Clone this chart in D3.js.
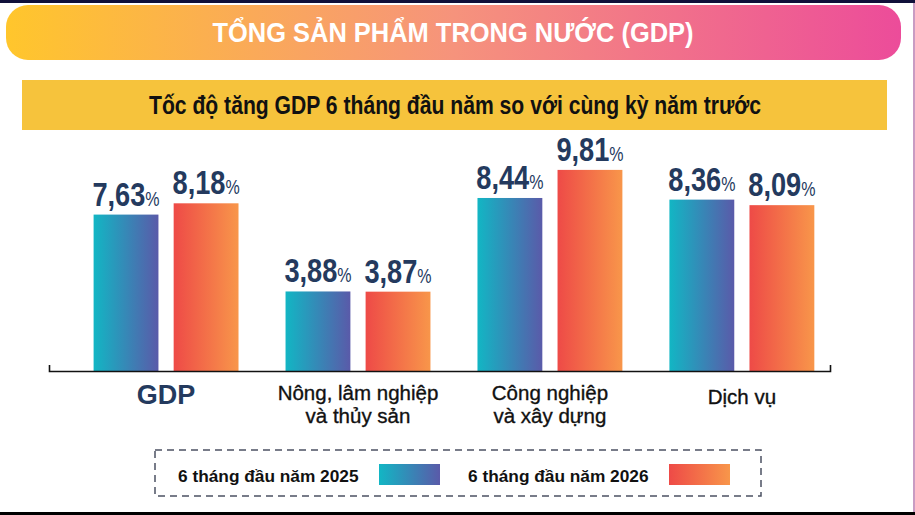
<!DOCTYPE html>
<html>
<head>
<meta charset="utf-8">
<script src="https://cdn.jsdelivr.net/npm/d3@7"></script>
<style>
  body { margin: 0; background: #fff; }
  svg { display: block; }
</style>
</head>
<body>
<script>
// du lieu
var categories = [["GDP"], ["Nông, lâm nghiệp", "và thủy sản"], ["Công nghiệp", "và xây dựng"], ["Dịch vụ"]];
var seriesNames = ["6 tháng đầu năm 2025", "6 tháng đầu năm 2026"];
var values2025 = [7.63, 3.88, 8.44, 8.36];
var values2026 = [8.18, 3.87, 9.81, 8.09];
var titleText = "TỔNG SẢN PHẨM TRONG NƯỚC (GDP)";
var subtitleText = "Tốc độ tăng GDP 6 tháng đầu năm so với cùng kỳ năm trước";

var svgW = 915;
var svgH = 515;

var baseY = 371;
var navy = "#243a5e";
var narrow = "'Liberation Sans Narrow', 'Liberation Sans', Arial, sans-serif";
var sans = "'Liberation Sans', Arial, sans-serif";

var seriesValues = [values2025, values2026];
var rows = categories.map(function(c, i) {
  return { cat: c, vals: seriesValues.map(function(s) { return s[i]; }) };
});

var svg = d3.select("body").append("svg")
    .attr("width", svgW)
    .attr("height", svgH);

var defs = svg.append("defs");

function addGradient(id, stops) {
  var g = defs.append("linearGradient").attr("id", id)
      .attr("x1", "0%").attr("x2", "100%").attr("y1", "0%").attr("y2", "0%");
  stops.forEach(function(s) {
    g.append("stop").attr("offset", s[0]).attr("stop-color", s[1]);
  });
}
addGradient("gTitle", [["0%", "#ffc62c"], ["50%", "#f6937c"], ["100%", "#ec4c9a"]]);
addGradient("g0", [["0%", "#12b6c4"], ["100%", "#5a5aa9"]]);
addGradient("g1", [["0%", "#ee4a47"], ["100%", "#f8964a"]]);

// khung
svg.append("rect").attr("x", 0).attr("y", 0).attr("width", svgW).attr("height", 3).attr("fill", "#10103a");
svg.append("rect").attr("x", 0).attr("y", 512).attr("width", svgW).attr("height", 3).attr("fill", "#000");
svg.append("rect").attr("x", 913).attr("y", 3).attr("width", 2).attr("height", 509).attr("fill", "#c99cc3");

// tieu de
svg.append("rect")
    .attr("x", 6).attr("y", 5).attr("width", 895).attr("height", 55)
    .attr("rx", 22).attr("ry", 22)
    .attr("fill", "url(#gTitle)");

svg.append("text")
    .attr("x", 453).attr("y", 42)
    .attr("text-anchor", "middle")
    .attr("font-family", narrow)
    .attr("font-weight", "bold")
    .attr("font-size", 27)
    .attr("fill", "#fff")
    .attr("textLength", 481)
    .attr("lengthAdjust", "spacingAndGlyphs")
    .text(titleText);

svg.append("rect")
    .attr("x", 22).attr("y", 80).attr("width", 865).attr("height", 50)
    .attr("fill", "#f6c33c");

svg.append("text")
    .attr("x", 455).attr("y", 114)
    .attr("text-anchor", "middle")
    .attr("font-family", narrow)
    .attr("font-weight", "bold")
    .attr("font-size", 26)
    .attr("fill", "#111")
    .attr("textLength", 612)
    .attr("lengthAdjust", "spacingAndGlyphs")
    .text(subtitleText);

// thang do
var x0 = d3.scaleBand()
    .domain(d3.range(categories.length))
    .range([49, 830])
    .paddingInner(0.245)
    .paddingOuter(0.157)
    .align(0.74);

var x1 = d3.scaleBand()
    .domain(d3.range(seriesNames.length))
    .range([0, x0.bandwidth()])
    .paddingInner(0.19);

var yScale = d3.scaleLinear()
    .domain([0, 10])
    .range([baseY, 166]);

var fmt = function(v) { return d3.format(".2f")(v).replace(".", ","); };

var group = svg.selectAll(".nhom")
    .data(rows)
    .enter()
    .append("g")
    .attr("class", "nhom")
    .attr("transform", function(d, i) { return "translate(" + x0(i) + ",0)"; });

group.selectAll("rect")
    .data(function(d) { return d.vals; })
    .enter()
    .append("rect")
    .attr("x", function(d, j) { return x1(j); })
    .attr("y", function(d) { return yScale(d); })
    .attr("width", x1.bandwidth())
    .attr("height", function(d) { return baseY - yScale(d); })
    .attr("fill", function(d, j) { return "url(#g" + j + ")"; });

var label = group.selectAll("text.val")
    .data(function(d) { return d.vals; })
    .enter()
    .append("text")
    .attr("class", "val")
    .attr("transform", function(d, j) {
      return "translate(" + (x1(j) + x1.bandwidth() / 2) + "," + (yScale(d) - 9) + ") scale(0.8,1)";
    })
    .attr("text-anchor", "middle")
    .attr("fill", navy)
    .attr("font-family", narrow);

label.append("tspan")
    .attr("font-weight", "bold")
    .attr("font-size", 34)
    .text(function(d) { return fmt(d); });

label.append("tspan")
    .attr("font-size", 20)
    .text("%");

// truc
var xAxis = d3.axisBottom(x0)
    .tickSizeInner(0)
    .tickSizeOuter(-6)
    .tickFormat("");

svg.append("g")
    .attr("class", "axis")
    .attr("transform", "translate(0," + baseY + ")")
    .call(xAxis)
    .call(function(g) {
      g.select(".domain").attr("stroke", "#111").attr("stroke-width", 1.6);
      g.selectAll(".tick").remove();
    });

var catText = svg.selectAll(".cat")
    .data(categories)
    .enter()
    .append("text")
    .attr("class", "cat")
    .attr("text-anchor", "middle")
    .attr("font-family", sans)
    .attr("font-weight", function(d, i) { return i == 0 ? "bold" : "normal"; })
    .attr("font-size", function(d, i) { return i == 0 ? 27 : 20.5; })
    .attr("fill", function(d, i) { return i == 0 ? navy : "#111"; })
    .attr("stroke", function(d, i) { return i == 0 ? "none" : "#111"; })
    .attr("stroke-width", 0.35);

catText.selectAll("tspan")
    .data(function(d) { return d; })
    .enter()
    .append("tspan")
    .attr("x", function(d, k, nodes) {
      var i = categories.indexOf(d3.select(nodes[k].parentNode).datum());
      return x0(i) + x0.bandwidth() / 2;
    })
    .attr("y", function(d, k, nodes) {
      var n = nodes.length;
      return n == 1 ? 404 : 400 + k * 23;
    })
    .text(function(d) { return d; });

// chu giai
svg.append("rect")
    .attr("x", 155).attr("y", 450).attr("width", 606).attr("height", 46)
    .attr("fill", "none")
    .attr("stroke", "#4c5263")
    .attr("stroke-width", 1.5)
    .attr("stroke-dasharray", "7,5");

var legend = svg.selectAll(".legend")
    .data(seriesNames)
    .enter()
    .append("g")
    .attr("class", "legend")
    .attr("transform", function(d, i) { return "translate(" + (178 + i * 290) + ",0)"; });

legend.append("text")
    .attr("x", 0).attr("y", 482)
    .attr("font-family", sans)
    .attr("font-weight", "bold")
    .attr("font-size", 17.3)
    .attr("fill", "#111")
    .text(function(d) { return d; });

legend.append("rect")
    .attr("x", 201).attr("y", 464)
    .attr("width", 61).attr("height", 21)
    .attr("fill", function(d, i) { return "url(#g" + i + ")"; });
</script>
</body>
</html>
